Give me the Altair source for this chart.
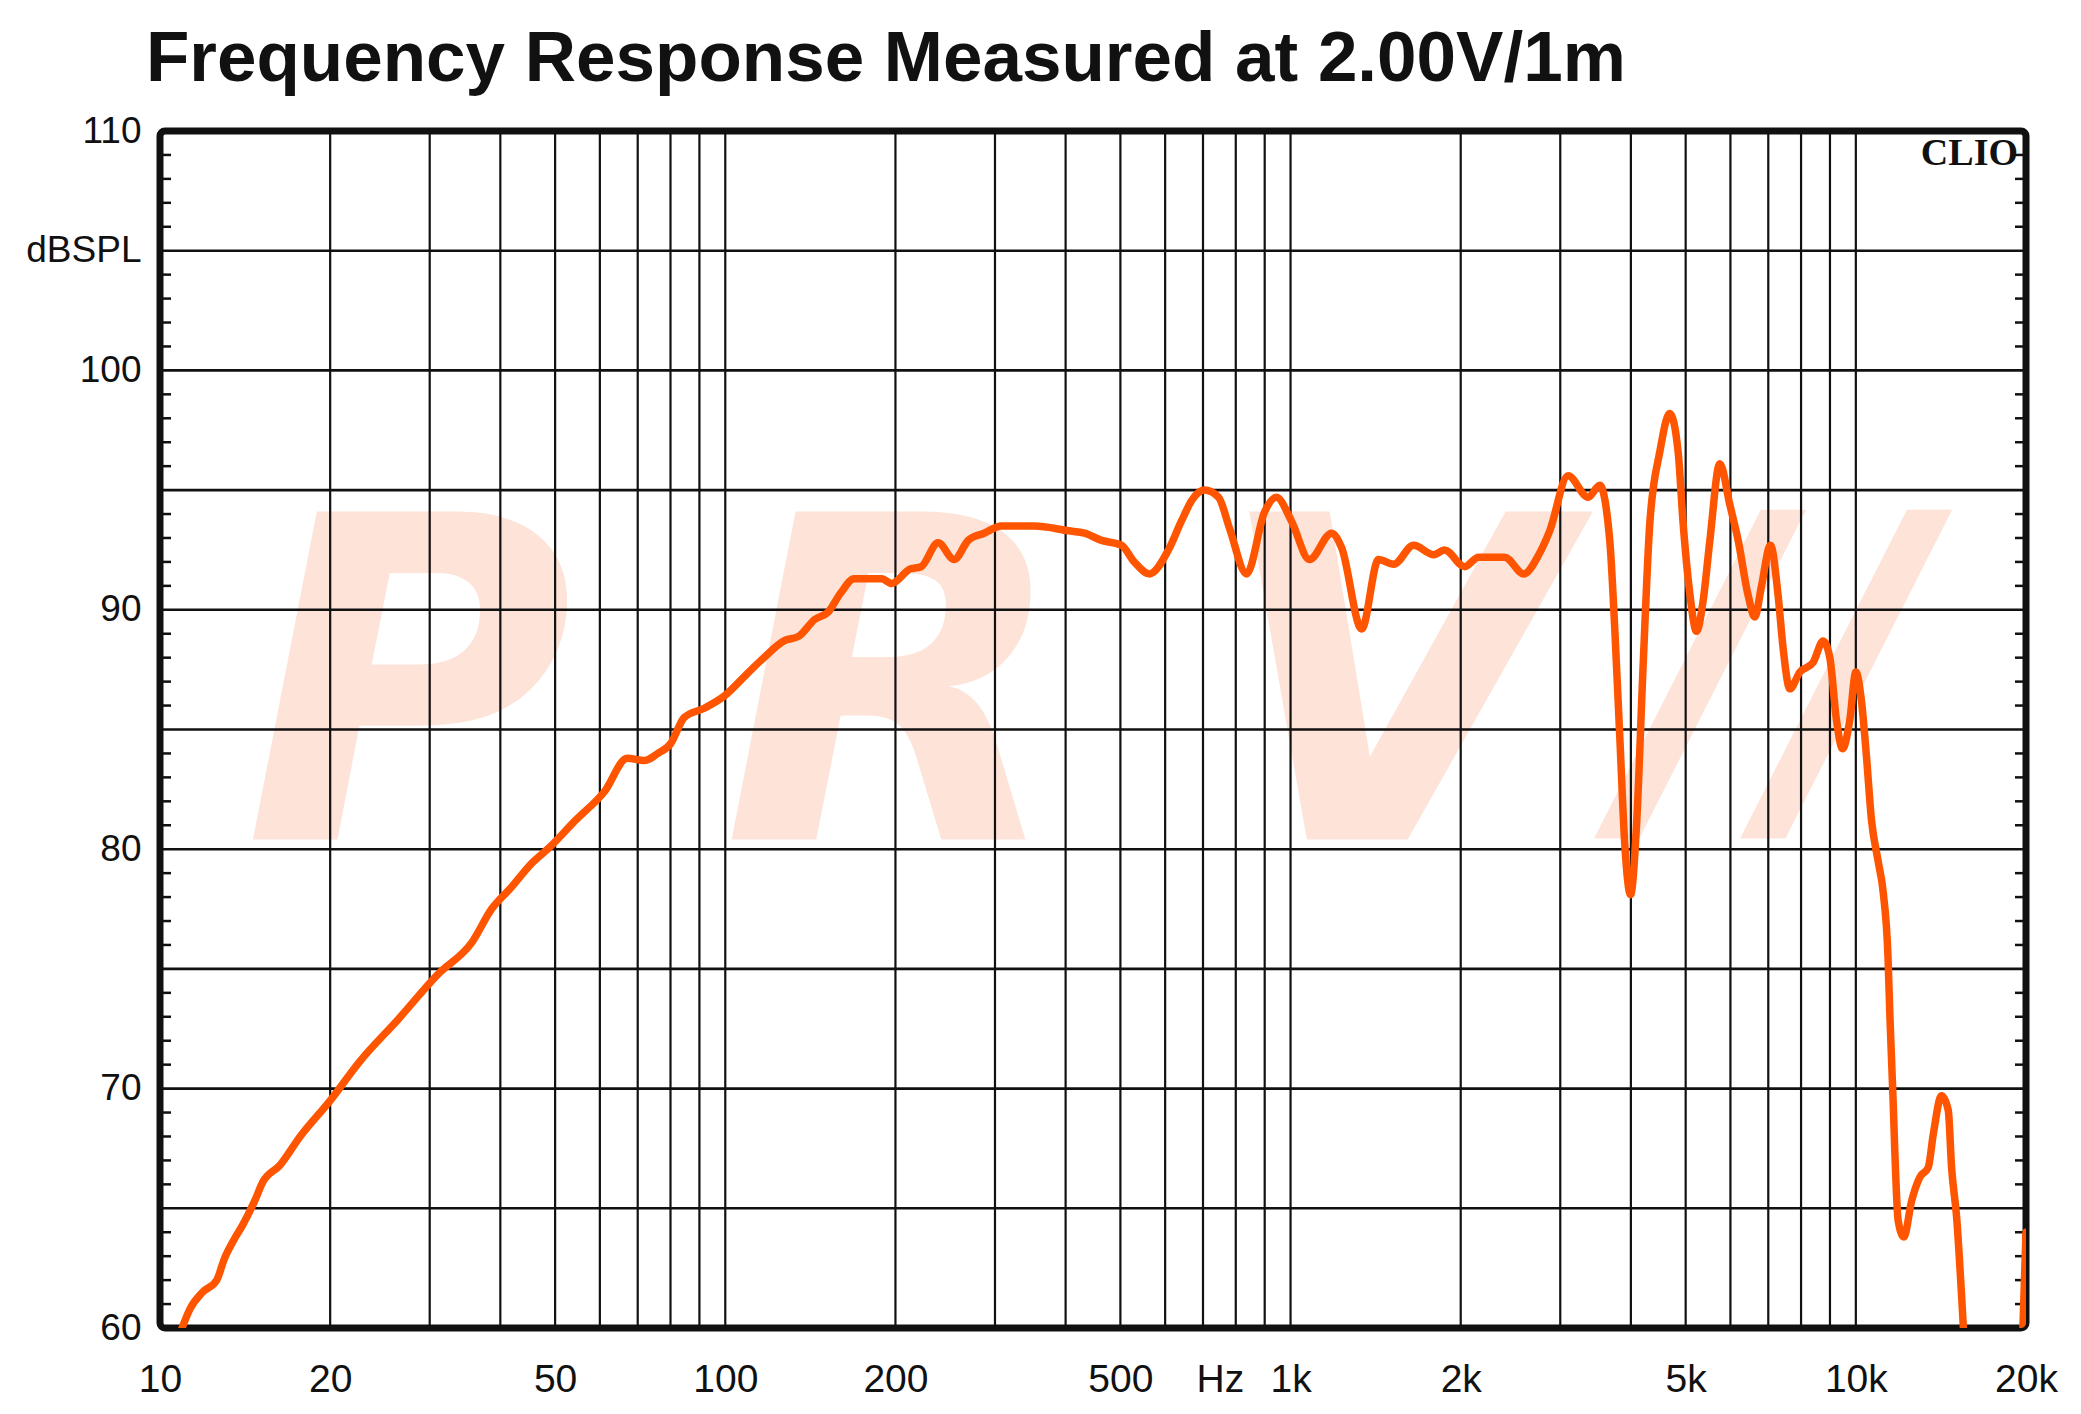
import altair as alt
import pandas as pd

# ---- data ----
freq_hz = [10.94, 11.3, 11.9, 12.6, 13.0, 13.6, 14.0, 14.7, 15.2, 16.3, 17.7, 20.0, 22.5, 26.4,
           31.1, 35.6, 38.6, 41.8, 45.4, 49.0, 54.3, 61.1, 67.1, 71.9, 76.0, 80.0, 84.6, 92.0,
           99.6, 109, 117, 127, 135, 144, 152, 160, 169, 189, 197, 212, 222, 238, 254, 269,
           287, 308, 352, 405, 432, 463, 502, 529, 563, 608, 641, 670, 704, 746, 780, 836,
           900, 944, 1004, 1080, 1182, 1231, 1336, 1431, 1522, 1651, 1791, 1873, 2032, 2151,
           2392, 2585, 2748, 2874, 3097, 3361, 3524, 3670, 3746, 3823, 3902, 3994, 4093, 4205,
           4320, 4500, 4688, 4849, 4949, 5084, 5226, 5370, 5518, 5746, 5984, 6192, 6449, 6627,
           6810, 7063, 7286, 7436, 7643, 7962, 8404, 8753, 8995, 9241, 9471, 9757, 10000,
           10230, 10440, 10660, 10950, 11180, 11400, 11490, 11640, 11720, 11880, 12160, 12550,
           12980, 13430, 13710, 14180, 14570, 14770, 15080, 15380, 15490, 16000, 17500, 19000,
           19600, 19750, 20000]
spl_db = [60.0, 60.8, 61.5, 62.0, 62.9, 63.8, 64.3, 65.3, 66.1, 66.8, 68.0, 69.5, 71.1, 72.9,
          74.8, 76.1, 77.5, 78.4, 79.4, 80.1, 81.2, 82.4, 83.8, 83.7, 84.0, 84.4, 85.5, 85.9,
          86.4, 87.3, 88.0, 88.7, 88.9, 89.6, 89.9, 90.7, 91.3, 91.3, 91.1, 91.7, 91.8, 92.8, 92.1, 92.9,
          93.2, 93.5, 93.5, 93.3, 93.2, 92.9, 92.7, 92.0, 91.5, 92.5, 93.7, 94.6, 95.0, 94.7, 93.4, 91.5,
          94.1, 94.7, 93.7, 92.1, 93.2, 92.6, 89.2, 92.1, 91.9, 92.7, 92.3, 92.5, 91.8, 92.2,
          92.2, 91.5, 92.3, 93.3, 95.6, 94.7, 95.2, 92.9, 89.2, 84.7, 80.2, 78.1, 81.0, 87.7,
          93.6, 96.6, 98.2, 96.6, 93.6, 90.7, 89.1, 90.4, 92.9, 96.1, 94.4, 92.9, 90.6, 89.7,
          91.0, 92.7, 90.6, 88.4, 86.7, 87.4, 87.8, 88.7, 88.0, 85.4, 84.2, 85.4, 87.4,
          86.2, 83.9, 81.2, 79.5, 78.2, 75.5, 73.0, 69.5, 67.4, 64.5, 63.8, 65.3,
          66.3, 66.7, 68.1, 69.7, 69.1, 66.7, 64.6, 61.4, 60.1, 57.0, 52.0, 52.0,
          57.0, 60.0, 64.0]

grid_freqs = [10, 20, 30, 40, 50, 60, 70, 80, 90, 100, 200, 300, 400, 500, 600, 700, 800, 900,
              1000, 2000, 3000, 4000, 5000, 6000, 7000, 8000, 9000, 10000, 20000]
grid_db = [60, 65, 70, 75, 80, 85, 90, 95, 100, 105, 110]
minor_db = [61, 62, 63, 64, 66, 67, 68, 69, 71, 72, 73, 74, 76, 77, 78, 79, 81, 82, 83, 84,
            86, 87, 88, 89, 91, 92, 93, 94, 96, 97, 98, 99, 101, 102, 103, 104, 106, 107, 108, 109]
x_label_values = [10, 20, 50, 100, 200, 500, 750, 1000, 2000, 5000, 10000, 20000]
y_label_values = [60, 70, 80, 90, 100, 105, 110]

W, H = 1866, 1197

xscale = alt.Scale(type="log", domain=[10, 20000], nice=False)
yscale = alt.Scale(domain=[60, 110], nice=False, zero=False)

xaxis = alt.Axis(values=x_label_values,
                 labelExpr="datum.value == 750 ? 'Hz' : (datum.value >= 1000 ? (datum.value / 1000) + 'k' : datum.value + '')",
                 grid=False, ticks=False, domain=False, title=None,
                 labelFont="Liberation Sans", labelFontSize=39, labelColor="#111",
                 labelPadding=32, labelOverlap=False, labelFlush=False, labelBound=False)
yaxis = alt.Axis(values=y_label_values,
                 labelExpr="datum.value == 105 ? 'dBSPL' : datum.value + ''",
                 grid=False, ticks=False, domain=False, title=None,
                 labelFont="Liberation Sans", labelFontSize=37, labelColor="#111",
                 labelPadding=19, labelOverlap=False, labelFlush=False, labelBound=False)


def xf(field):
    return alt.X(field, type="quantitative", scale=xscale, axis=xaxis)


def yf(field):
    return alt.Y(field, type="quantitative", scale=yscale, axis=yaxis)


def xd(v):
    return alt.XDatum(v, type="quantitative", scale=xscale, axis=xaxis)


def yd(v):
    return alt.YDatum(v, type="quantitative", scale=yscale, axis=yaxis)


curve_df = pd.DataFrame({"f": freq_hz, "db": spl_db})
gridx_df = pd.DataFrame({"f": grid_freqs})
gridy_df = pd.DataFrame({"db": grid_db})
minor_df = pd.DataFrame({"db": minor_db})
one = pd.DataFrame({"k": [0]})

wm_color = "#fde3d8"


def wm(letter, f, db, size=450):
    return alt.Chart(one).mark_text(
        text=letter, font="DejaVu Sans", fontWeight="bold", fontStyle="oblique",
        fontSize=size, color=wm_color, align="center", baseline="alphabetic"
    ).encode(x=xd(f), y=yd(db))


wm_p = wm("P", 27.5, 80.4)
wm_r = wm("R", 200, 80.4)
wm_v = wm("V", 1494, 80.4)
wm_s = wm("//", 7300, 82.0, 400)

gridx = alt.Chart(gridx_df).mark_rule(color="#111", strokeWidth=2.2).encode(x=xf("f"))
gridy = alt.Chart(gridy_df).mark_rule(color="#111", strokeWidth=2.6).encode(y=yf("db"))
minor_l = alt.Chart(minor_df).mark_rule(color="#111", strokeWidth=2.5).encode(
    y=yf("db"), x=alt.value(0), x2=alt.value(11))
minor_r = alt.Chart(minor_df).mark_rule(color="#111", strokeWidth=2.5).encode(
    y=yf("db"), x=alt.value(W - 11), x2=alt.value(W))

line = alt.Chart(curve_df).mark_line(
    color="#ff5500", strokeWidth=7.5, interpolate="monotone", clip=True,
    strokeJoin="round", strokeCap="round"
).encode(x=xf("f"), y=yf("db"))

clio = alt.Chart(one).mark_text(
    text="CLIO", font="Liberation Serif", fontWeight="bold", fontSize=38, color="#111",
    align="right", baseline="alphabetic", dx=-8
).encode(x=xd(20000), y=yd(108.58))

chart = alt.layer(wm_p, wm_r, wm_v, wm_s, gridx, gridy, minor_l, minor_r, line, clio).properties(
    width=W, height=H,
    title=alt.TitleParams("Frequency Response Measured at 2.00V/1m", anchor="start",
                          frame="group", font="Liberation Sans", fontSize=71,
                          fontWeight="bold", color="#111", dx=-14, offset=16),
    autosize=alt.AutoSizeParams(type="none"),
    padding={"left": 152, "top": 123, "right": 40, "bottom": 90},
).configure_view(stroke="#111", strokeWidth=7, cornerRadius=5)

chart.save("out.html", embed_options={"renderer": "svg", "actions": False})
